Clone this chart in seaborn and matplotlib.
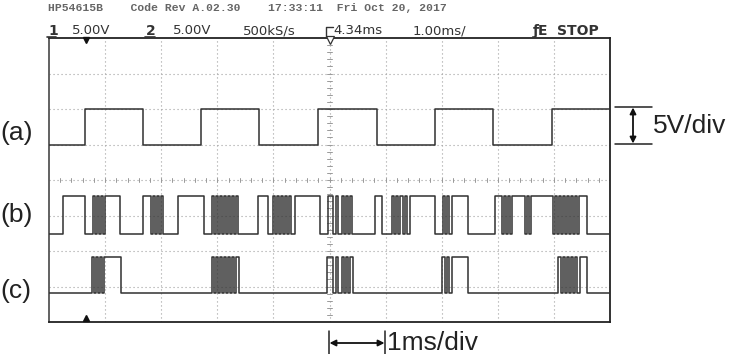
import matplotlib
matplotlib.use("Agg")
import matplotlib.pyplot as plt
import pandas as pd
import seaborn as sns

# ---------------- data (time in ms, amplitude in screen divisions) ----------------
a_high = [(0.64, 1.68), (2.71, 3.74), (4.80, 5.85), (6.88, 7.91), (8.97, 10.0)]
b_high = [(0.25, 0.64), (0.78, 0.82), (0.86, 0.89), (0.93, 0.96), (1.00, 1.27),
          (1.68, 1.82), (1.85, 1.89), (1.93, 1.96), (2.00, 2.03),
          (2.30, 2.76), (2.91, 2.94), (2.98, 3.01), (3.05, 3.08), (3.12, 3.16),
          (3.19, 3.23), (3.26, 3.30), (3.33, 3.37),
          (3.73, 3.90), (3.99, 4.03), (4.06, 4.10), (4.14, 4.17), (4.21, 4.24),
          (4.28, 4.31), (4.39, 4.83),
          (4.97, 5.06), (5.12, 5.15), (5.22, 5.26), (5.29, 5.33), (5.37, 5.40),
          (5.81, 5.94), (6.11, 6.15), (6.19, 6.22), (6.26, 6.31), (6.35, 6.38),
          (6.43, 6.88), (7.02, 7.06), (7.09, 7.13), (7.18, 7.47),
          (7.95, 8.07), (8.11, 8.15), (8.18, 8.22), (8.25, 8.48), (8.52, 8.56),
          (8.59, 8.98), (9.02, 9.06), (9.09, 9.13), (9.16, 9.20), (9.23, 9.27),
          (9.30, 9.34), (9.38, 9.41), (9.45, 9.59)]
c_high = [(0.77, 0.80), (0.84, 0.87), (0.91, 0.94), (0.98, 1.28),
          (2.91, 2.94), (2.98, 3.01), (3.05, 3.08), (3.12, 3.16), (3.19, 3.23),
          (3.26, 3.30), (3.33, 3.39),
          (4.96, 5.06), (5.12, 5.15), (5.22, 5.26), (5.29, 5.33), (5.37, 5.42),
          (7.01, 7.06), (7.09, 7.13), (7.18, 7.47),
          (9.07, 9.13), (9.16, 9.20), (9.23, 9.27), (9.30, 9.34), (9.38, 9.41),
          (9.47, 9.59)]
a_levels = (5.0, 6.0)
b_levels = (2.48, 3.55)
c_levels = (0.82, 1.83)
trace_labels = ["(a)", "(b)", "(c)"]
trigger_time = 0.66

header1 = "HP54615B    Code Rev A.02.30    17:33:11  Fri Oct 20, 2017"
header2 = [("1", 48, True), ("5.00V", 72, False), ("2", 146, True), ("5.00V", 173, False),
           ("500kS/s", 243, False), ("4.34ms", 333, False), ("1.00ms/", 413, False),
           ("ƒE", 533, True), ("STOP", 557, True)]


def steps(intervals, lo, hi, t0=0.0, t1=10.0):
    t, v = [t0], [lo]
    for s, e in intervals:
        t.append(s); v.append(hi)
        if e < t1:
            t.append(e); v.append(lo)
    if t[-1] < t1:
        t.append(t1); v.append(v[-1])
    return pd.DataFrame({"t": t, "v": v})


W, H = 736, 354
fig = plt.figure(figsize=(W / 100, H / 100), dpi=100)
sns.set_style("white")
plt.rcParams["font.family"] = ["DejaVu Sans"]

L, R, T, B = 49, 610, 38, 322
ax = fig.add_axes([L / W, (H - B) / H, (R - L) / W, (B - T) / H])
ax.set_xlim(0, 10)
ax.set_ylim(0, 8)
ax.set_xticks([]); ax.set_yticks([])
for sp in ax.spines.values():
    sp.set_color("#222"); sp.set_linewidth(1.3); sp.set_visible(True)
ax.spines["left"].set_color("#555")

grid_kw = dict(color="#a0a0a0", lw=0.8, ls=(0, (1, 2.6)), zorder=1)
for k in range(1, 10):
    ax.axvline(k, **grid_kw)
for j in range(1, 8):
    ax.axhline(j, **grid_kw)
# center axes tick marks
for i in range(1, 50):
    ax.plot([i * 0.2, i * 0.2], [3.95, 4.05], color="#999", lw=0.7, zorder=1)
for i in range(1, 40):
    ax.plot([4.96, 5.04], [i * 0.2, i * 0.2], color="#999", lw=0.7, zorder=1)

for intervals, (lo, hi) in [(a_high, a_levels), (b_high, b_levels), (c_high, c_levels)]:
    df = steps(intervals, lo, hi)
    sns.lineplot(data=df, x="t", y="v", ax=ax, estimator=None, sort=False,
                 drawstyle="steps-post", color="#303030", lw=1.1, zorder=3)
ax.set_xlabel(""); ax.set_ylabel("")

# trigger / ground markers
ax.plot([trigger_time], [7.93], marker="v", ms=5, color="#111", clip_on=False, zorder=5)
ax.plot([trigger_time], [0.1], marker="^", ms=5, color="#111", clip_on=False, zorder=5)
ax.plot([5.0], [7.93], marker="v", ms=6, mfc="white", mec="#333", mew=0.9, clip_on=False, zorder=5)

# overlay for texts and annotations, pixel coordinates
ov = fig.add_axes([0, 0, 1, 1])
ov.set_xlim(0, W); ov.set_ylim(H, 0); ov.axis("off")
ov.patch.set_alpha(0)

ov.text(48, 8, header1, family="Liberation Mono", fontsize=8.2, color="#666",
        va="center", ha="left", fontweight="bold")
for txt, x, bold in header2:
    ov.text(x, 31, txt, fontsize=9.5 if not bold else 10, color="#333",
            fontweight="bold" if bold else "normal", va="center", ha="left")
# underline under channel numbers
ov.plot([47, 56], [37, 37], color="#333", lw=1.2)
ov.plot([145, 155], [37, 37], color="#333", lw=1.2)
# trigger delay symbol
ov.plot([326, 326, 333], [37, 27, 27], color="#333", lw=1.0)

for lab, y in zip(trace_labels, [133, 215, 291]):
    ov.text(0, y, lab, family="Liberation Sans", fontsize=19, color="#222",
            va="center", ha="left")

# 5V/div annotation
ov.plot([615, 652], [107, 107], color="#222", lw=1.1)
ov.plot([615, 652], [144, 144], color="#222", lw=1.1)
ov.annotate("", xy=(633, 107.5), xytext=(633, 143.5),
            arrowprops=dict(arrowstyle="<|-|>", color="#111", lw=1.3,
                            mutation_scale=9, shrinkA=0, shrinkB=0))
ov.text(653, 126, "5V/div", family="Liberation Sans", fontsize=19, color="#222",
        va="center", ha="left")

# 1ms/div annotation
ov.plot([329, 329], [331, 354], color="#222", lw=1.1)
ov.plot([385, 385], [331, 354], color="#222", lw=1.1)
ov.annotate("", xy=(329.5, 343), xytext=(384.5, 343),
            arrowprops=dict(arrowstyle="<|-|>", color="#111", lw=1.3,
                            mutation_scale=9, shrinkA=0, shrinkB=0))
ov.text(387, 343, "1ms/div", family="Liberation Sans", fontsize=19, color="#222",
        va="center", ha="left")

fig.savefig("out.png", dpi=100, facecolor="white")
